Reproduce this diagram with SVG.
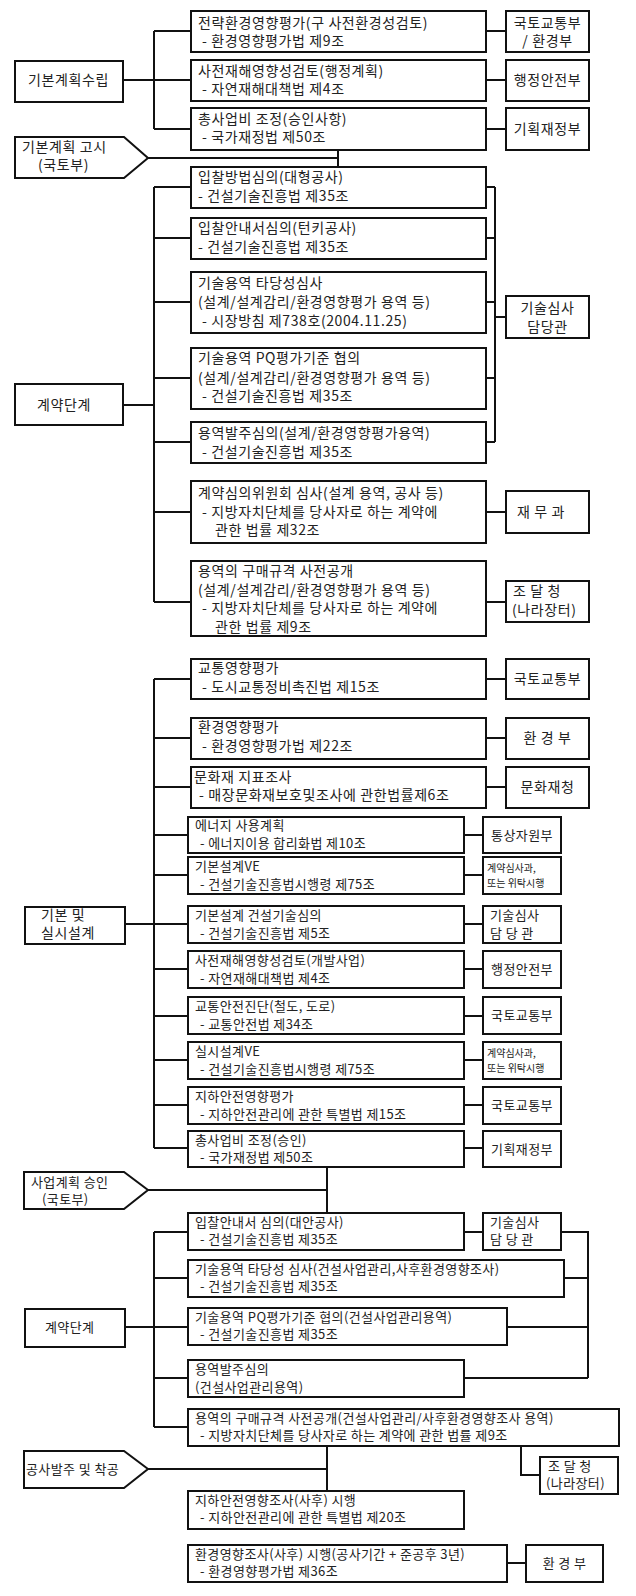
<svg xmlns="http://www.w3.org/2000/svg" width="636" height="1596" viewBox="0 0 636 1596">
<style>
.b{fill:#fff;stroke:#111;stroke-width:2}
.c{fill:none;stroke:#111;stroke-width:2}
text{font-family:"Noto Sans CJK KR","Liberation Sans",sans-serif;fill:#222;font-size:14px;letter-spacing:0.6px}
.s{font-size:13px;letter-spacing:0.4px}
.x{font-size:10px;letter-spacing:0}
.m{text-anchor:middle}
</style>
<rect width="636" height="1596" fill="#fff"/>
<g id="connectors">
<path class="c" d="M123 80H154M154 31V129M154 31H191M154 80H191M154 129H191"/>
<path class="c" d="M486 31H506M486 80H506M486 129H506"/>
<path class="c" d="M148 158H338M338 150V167"/>
<path class="c" d="M123 405H154M154 187V602M154 187H191M154 238H191M154 302H191M154 378H191M154 442H191M154 512H191M154 602H191"/>
<path class="c" d="M486 187H495M486 238H495M486 302H495M486 378H495M486 442H495M495 187V442M495 317H506"/>
<path class="c" d="M486 512H506M486 602H506"/>
<path class="c" d="M125 924H154M154 679V1148M154 679H191M154 738H191M154 787H191M154 835H188M154 875H188M154 924H188M154 969H188M154 1016H188M154 1060H188M154 1105H188M154 1148H188"/>
<path class="c" d="M486 679H506M486 738H506M486 787H506M464 835H483M464 875H483M464 924H483M464 969H483M464 1016H483M464 1060H483M464 1105H483M464 1148H483"/>
<path class="c" d="M327 1167V1213M148 1190H327"/>
<path class="c" d="M125 1327H154M154 1232V1427M154 1232H188M154 1278H188M154 1327H188M154 1378H188M154 1427H188"/>
<path class="c" d="M464 1232H483M561 1232H588V1378M564 1278H588M507 1327H588M464 1378H588"/>
<path class="c" d="M327 1446V1491M148 1469H327M521 1446V1475H540"/>
<path class="c" d="M507 1563H526"/>
</g>
<g id="n-plan"><rect class="b" x="15" y="61" width="108" height="41"/><text x="28" y="85">기본계획수립</text></g>
<g id="n1"><rect class="b" x="191" y="11" width="295" height="41"/><text x="198" y="28">전략환경영향평가(구 사전환경성검토)</text><text x="202" y="46">- 환경영향평가법 제9조</text></g>
<g id="n1r"><rect class="b" x="506" y="11" width="83" height="41"/><text class="m" x="547.5" y="28">국토교통부</text><text class="m" x="547.5" y="46">/ 환경부</text></g>
<g id="n2"><rect class="b" x="191" y="60" width="295" height="41"/><text x="198" y="76">사전재해영향성검토(행정계획)</text><text x="202" y="94">- 자연재해대책법 제4조</text></g>
<g id="n2r"><rect class="b" x="506" y="60" width="83" height="41"/><text class="m" x="547.5" y="85">행정안전부</text></g>
<g id="n3"><rect class="b" x="191" y="108" width="295" height="42"/><text x="198" y="124">총사업비 조정(승인사항)</text><text x="202" y="142">- 국가재정법 제50조</text></g>
<g id="n3r"><rect class="b" x="506" y="108" width="83" height="42"/><text class="m" x="547.5" y="134">기획재정부</text></g>
<g id="n-gosi"><path class="b" d="M15 137H124L148 158L124 178H15Z"/><text x="22" y="152">기본계획 고시</text><text x="38" y="170">(국토부)</text></g>
<g id="n-con1"><rect class="b" x="15" y="384" width="108" height="41"/><text x="37" y="410">계약단계</text></g>
<g id="n4"><rect class="b" x="191" y="167" width="295" height="41"/><text x="198" y="182">입찰방법심의(대형공사)</text><text x="198" y="201">- 건설기술진흥법 제35조</text></g>
<g id="n5"><rect class="b" x="191" y="218" width="295" height="41"/><text x="198" y="233">입찰안내서심의(턴키공사)</text><text x="198" y="252">- 건설기술진흥법 제35조</text></g>
<g id="n6"><rect class="b" x="191" y="272" width="295" height="61"/><text x="198" y="288">기술용역 타당성심사</text><text x="198" y="307">(설계/설계감리/환경영향평가 용역 등)</text><text x="202" y="326">- 시장방침 제738호(2004.11.25)</text></g>
<g id="n7"><rect class="b" x="191" y="348" width="295" height="61"/><text x="198" y="363">기술용역 PQ평가기준 협의</text><text x="198" y="383">(설계/설계감리/환경영향평가 용역 등)</text><text x="202" y="401">- 건설기술진흥법 제35조</text></g>
<g id="n8"><rect class="b" x="191" y="422" width="295" height="41"/><text x="198" y="438">용역발주심의(설계/환경영향평가용역)</text><text x="202" y="457">- 건설기술진흥법 제35조</text></g>
<g id="n-tech1"><rect class="b" x="506" y="296" width="83" height="42"/><text class="m" x="547.5" y="313">기술심사</text><text class="m" x="547.5" y="332">담당관</text></g>
<g id="n9"><rect class="b" x="191" y="481" width="295" height="62"/><text x="198" y="498">계약심의위원회 심사(설계 용역, 공사 등)</text><text x="202" y="517">- 지방자치단체를 당사자로 하는 계약에</text><text x="215" y="535">관한 법률 제32조</text></g>
<g id="n9r"><rect class="b" x="506" y="491" width="83" height="42"/><text x="517" y="517">재 무 과</text></g>
<g id="n10"><rect class="b" x="191" y="561" width="295" height="75"/><text x="198" y="576">용역의 구매규격 사전공개</text><text x="198" y="595">(설계/설계감리/환경영향평가 용역 등)</text><text x="202" y="613">- 지방자치단체를 당사자로 하는 계약에</text><text x="215" y="632">관한 법률 제9조</text></g>
<g id="n10r"><rect class="b" x="506" y="581" width="83" height="41"/><text x="513" y="596">조 달 청</text><text x="512" y="615">(나라장터)</text></g>
<g id="n-design"><rect class="b" x="25" y="907" width="100" height="37"/><text x="41" y="920">기본 및</text><text x="41" y="938">실시설계</text></g>
<g id="m1"><rect class="b" x="191" y="659" width="295" height="40"/><text x="198" y="673">교통영향평가</text><text x="202" y="692">- 도시교통정비촉진법 제15조</text></g>
<g id="m1r"><rect class="b" x="506" y="659" width="83" height="40"/><text class="m" x="547.5" y="684">국토교통부</text></g>
<g id="m2"><rect class="b" x="191" y="718" width="295" height="41"/><text x="198" y="732">환경영향평가</text><text x="202" y="751">- 환경영향평가법 제22조</text></g>
<g id="m2r"><rect class="b" x="506" y="718" width="83" height="41"/><text class="m" x="547.5" y="743">환 경 부</text></g>
<g id="m3"><rect class="b" x="191" y="767" width="295" height="41"/><text x="194" y="782">문화재 지표조사</text><text x="199" y="800">- 매장문화재보호및조사에 관한법률제6조</text></g>
<g id="m3r"><rect class="b" x="506" y="767" width="83" height="41"/><text class="m" x="547.5" y="792">문화재청</text></g>
<g id="m4"><rect class="b" x="188" y="817" width="276" height="36"/><text class="s" x="195" y="830">에너지 사용계획</text><text class="s" x="200" y="848">- 에너지이용 합리화법 제10조</text></g>
<g id="m4r"><rect class="b" x="483" y="817" width="78" height="36"/><text class="s m" x="522" y="840">통상자원부</text></g>
<g id="m5"><rect class="b" x="188" y="857" width="276" height="37"/><text class="s" x="195" y="871">기본설계VE</text><text class="s" x="200" y="889">- 건설기술진흥법시행령 제75조</text></g>
<g id="m5r"><rect class="b" x="483" y="857" width="78" height="37"/><text class="x" x="487" y="872">계약심사과,</text><text class="x" x="487" y="887">또는 위탁시행</text></g>
<g id="m6"><rect class="b" x="188" y="906" width="276" height="37"/><text class="s" x="195" y="920">기본설계 건설기술심의</text><text class="s" x="200" y="938">- 건설기술진흥법 제5조</text></g>
<g id="m6r"><rect class="b" x="483" y="906" width="78" height="37"/><text class="s" x="490" y="920">기술심사</text><text class="s" x="490" y="938">담 당 관</text></g>
<g id="m7"><rect class="b" x="188" y="951" width="276" height="37"/><text class="s" x="195" y="965">사전재해영향성검토(개발사업)</text><text class="s" x="200" y="983">- 자연재해대책법 제4조</text></g>
<g id="m7r"><rect class="b" x="483" y="951" width="78" height="37"/><text class="s m" x="522" y="974">행정안전부</text></g>
<g id="m8"><rect class="b" x="188" y="997" width="276" height="37"/><text class="s" x="195" y="1011">교통안전진단(철도, 도로)</text><text class="s" x="200" y="1029">- 교통안전법 제34조</text></g>
<g id="m8r"><rect class="b" x="483" y="997" width="78" height="37"/><text class="s m" x="522" y="1020">국토교통부</text></g>
<g id="m9"><rect class="b" x="188" y="1042" width="276" height="37"/><text class="s" x="195" y="1056">실시설계VE</text><text class="s" x="200" y="1074">- 건설기술진흥법시행령 제75조</text></g>
<g id="m9r"><rect class="b" x="483" y="1042" width="78" height="37"/><text class="x" x="487" y="1057">계약심사과,</text><text class="x" x="487" y="1072">또는 위탁시행</text></g>
<g id="m10"><rect class="b" x="188" y="1087" width="276" height="37"/><text class="s" x="195" y="1101">지하안전영향평가</text><text class="s" x="200" y="1119">- 지하안전관리에 관한 특별법 제15조</text></g>
<g id="m10r"><rect class="b" x="483" y="1087" width="78" height="37"/><text class="s m" x="522" y="1110">국토교통부</text></g>
<g id="m11"><rect class="b" x="188" y="1131" width="276" height="36"/><text class="s" x="195" y="1145">총사업비 조정(승인)</text><text class="s" x="200" y="1162">- 국가재정법 제50조</text></g>
<g id="m11r"><rect class="b" x="483" y="1131" width="78" height="36"/><text class="s m" x="522" y="1154">기획재정부</text></g>
<g id="n-approve"><path class="b" d="M24 1172H124L148 1190L124 1209H24Z"/><text class="s" x="31" y="1187">사업계획 승인</text><text class="s" x="42" y="1204">(국토부)</text></g>
<g id="n-con2"><rect class="b" x="25" y="1309" width="100" height="38"/><text class="s" x="45" y="1332">계약단계</text></g>
<g id="l1"><rect class="b" x="188" y="1213" width="276" height="37"/><text class="s" x="195" y="1227">입찰안내서 심의(대안공사)</text><text class="s" x="200" y="1244">- 건설기술진흥법 제35조</text></g>
<g id="l1r"><rect class="b" x="483" y="1213" width="78" height="37"/><text class="s" x="490" y="1227">기술심사</text><text class="s" x="490" y="1244">담 당 관</text></g>
<g id="l2"><rect class="b" x="188" y="1260" width="376" height="37"/><text class="s" x="195" y="1274">기술용역 타당성 심사(건설사업관리,사후환경영향조사)</text><text class="s" x="200" y="1291">- 건설기술진흥법 제35조</text></g>
<g id="l3"><rect class="b" x="188" y="1308" width="319" height="37"/><text class="s" x="195" y="1322">기술용역 PQ평가기준 협의(건설사업관리용역)</text><text class="s" x="200" y="1339">- 건설기술진흥법 제35조</text></g>
<g id="l4"><rect class="b" x="188" y="1360" width="276" height="37"/><text class="s" x="195" y="1374">용역발주심의</text><text class="s" x="195" y="1392">(건설사업관리용역)</text></g>
<g id="l5"><rect class="b" x="188" y="1409" width="431" height="37"/><text class="s" x="195" y="1423">용역의 구매규격 사전공개(건설사업관리/사후환경영향조사 용역)</text><text class="s" x="200" y="1440">- 지방자치단체를 당사자로 하는 계약에 관한 법률 제9조</text></g>
<g id="l5r"><rect class="b" x="540" y="1457" width="78" height="37"/><text class="s" x="548" y="1471">조 달 청</text><text class="s" x="546" y="1488">(나라장터)</text></g>
<g id="n-start"><path class="b" d="M24 1451H124L148 1469L124 1488H24Z"/><text class="s" x="26" y="1474">공사발주 및 착공</text></g>
<g id="l6"><rect class="b" x="188" y="1491" width="276" height="38"/><text class="s" x="195" y="1505">지하안전영향조사(사후) 시행</text><text class="s" x="200" y="1522">- 지하안전관리에 관한 특별법 제20조</text></g>
<g id="l7"><rect class="b" x="188" y="1545" width="319" height="37"/><text class="s" x="195" y="1559">환경영향조사(사후) 시행(공사기간 + 준공후 3년)</text><text class="s" x="200" y="1576">- 환경영향평가법 제36조</text></g>
<g id="l7r"><rect class="b" x="526" y="1545" width="77" height="37"/><text class="s m" x="564.5" y="1568">환 경 부</text></g>
</svg>
